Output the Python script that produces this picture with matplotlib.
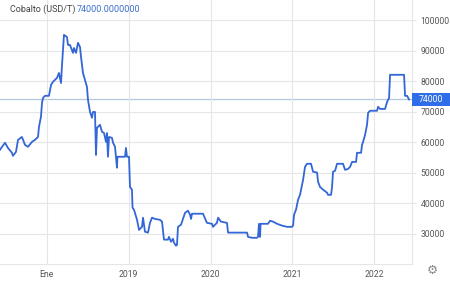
import matplotlib
matplotlib.use("Agg")
import matplotlib.pyplot as plt
import matplotlib.transforms as mtransforms
from matplotlib.patches import Rectangle

# time as decimal year, price in USD per tonne
years = [
    2017.430, 2017.491, 2017.527, 2017.576, 2017.588, 2017.625, 2017.650, 2017.698,
    2017.711, 2017.735, 2017.772, 2017.821, 2017.857, 2017.882, 2017.894, 2017.906,
    2017.930, 2017.943, 2017.955, 2017.979, 2018.028, 2018.053, 2018.077, 2018.126,
    2018.150, 2018.175, 2018.187, 2018.199, 2018.211, 2018.248, 2018.260, 2018.284,
    2018.321, 2018.333, 2018.358, 2018.382, 2018.407, 2018.419, 2018.443, 2018.468,
    2018.492, 2018.504, 2018.529, 2018.553, 2018.565, 2018.590, 2018.602, 2018.614,
    2018.651, 2018.675, 2018.700, 2018.724, 2018.736, 2018.748, 2018.761, 2018.797,
    2018.810, 2018.834, 2018.858, 2018.864, 2018.956, 2018.968, 2018.980, 2019.005,
    2019.017, 2019.041, 2019.048, 2019.066, 2019.103, 2019.127, 2019.164, 2019.176,
    2019.200, 2019.237, 2019.261, 2019.286, 2019.322, 2019.383, 2019.408, 2019.432,
    2019.481, 2019.493, 2019.518, 2019.542, 2019.554, 2019.579, 2019.591, 2019.603,
    2019.640, 2019.664, 2019.689, 2019.725, 2019.750, 2019.762, 2019.774, 2019.908,
    2019.957, 2020.018, 2020.031, 2020.055, 2020.079, 2020.092, 2020.128, 2020.201,
    2020.214, 2020.446, 2020.458, 2020.507, 2020.568, 2020.580, 2020.592, 2020.605,
    2020.611, 2020.702, 2020.727, 2020.763, 2020.812, 2020.873, 2020.934, 2020.995,
    2021.008, 2021.020, 2021.044, 2021.069, 2021.093, 2021.117, 2021.130, 2021.154,
    2021.178, 2021.227, 2021.252, 2021.301, 2021.313, 2021.337, 2021.374, 2021.423,
    2021.435, 2021.472, 2021.484, 2021.496, 2021.521, 2021.545, 2021.618, 2021.643,
    2021.679, 2021.704, 2021.728, 2021.777, 2021.789, 2021.838, 2021.850, 2021.863,
    2021.887, 2021.911, 2021.924, 2021.948, 2022.033, 2022.046, 2022.070, 2022.131,
    2022.156, 2022.180, 2022.192, 2022.363, 2022.375, 2022.400, 2022.424,
]
prices = [
    57500, 59800, 58100, 56500, 55500, 56800, 60750, 61700,
    60750, 59100, 58450, 60100, 60750, 61400, 61700, 65000,
    68300, 72900, 74500, 75200, 75200, 78800, 79800, 81100,
    82700, 79400, 85300, 90300, 95200, 94500, 91900, 91900,
    89300, 90900, 89300, 92600, 91200, 88000, 82700, 80400,
    78100, 73900, 69900, 68000, 69900, 69900, 55800, 64700,
    65700, 63400, 63000, 60100, 63000, 55200, 61700, 61400,
    59800, 58500, 51600, 55200, 55200, 58100, 55200, 55200,
    45300, 44400, 38500, 37800, 34500, 31200, 32200, 35200,
    30600, 30300, 33500, 35200, 34800, 34500, 33900, 28000,
    28000, 28900, 27300, 28300, 27000, 26000, 26300, 32200,
    32900, 34800, 36800, 37500, 36200, 34800, 36500, 36500,
    33500, 33200, 32200, 32900, 33500, 35200, 33900, 33500,
    30300, 30300, 28900, 28600, 28600, 28900, 33200, 28900,
    33200, 33200, 34200, 33900, 33200, 32600, 32200, 32200,
    32600, 36200, 37800, 41100, 42700, 46000, 47600, 51900,
    52900, 52900, 50300, 50000, 47000, 45300, 44400, 43400,
    42700, 42700, 45300, 50300, 50600, 52900, 52900, 50900,
    51200, 51900, 53500, 53500, 56500, 56500, 59100, 60100,
    62400, 65700, 69600, 70300, 70300, 71600, 70900, 70900,
    73200, 74500, 82100, 82100, 75200, 75200, 74000,
]
last_price = 74000
tick_years = [2018, 2019, 2020, 2021, 2022]
tick_labels = ["Ene", "2019", "2020", "2021", "2022"]
y_ticks = [30000, 40000, 50000, 60000, 70000, 80000, 90000, 100000]

plt.rcParams["font.family"] = ["Roboto", "DejaVu Sans"]

fig = plt.figure(figsize=(4.5, 2.82), dpi=100)
ax = fig.add_axes([0, 18 / 282, 412 / 450, 264 / 282])

grid_col = "#e6e6e6"
text_col = "#555555"

ax.set_xlim(2017.43, 2022.46)
ax.set_ylim(20000, 106650)
ax.set_xticks(tick_years)
ax.set_xticklabels(tick_labels)
ax.set_yticks(y_ticks)
ax.set_yticklabels([str(v) for v in y_ticks])
ax.yaxis.tick_right()
ax.grid(True, color=grid_col, linewidth=0.8)
ax.tick_params(axis="y", length=3, color=grid_col, labelsize=6.2,
               labelcolor=text_col, pad=3)
ax.tick_params(axis="x", length=0, labelsize=6.2, labelcolor=text_col, pad=4)
for side in ["top", "left"]:
    ax.spines[side].set_visible(False)
for side in ["right", "bottom"]:
    ax.spines[side].set_color(grid_col)
    ax.spines[side].set_linewidth(0.8)

ax.axhline(last_price, color="#b3c8de", linewidth=0.9, zorder=1)
ax.plot(years, prices, color="#3366d6", linewidth=1.3, zorder=3)

# last value tag on the right
trans = mtransforms.blended_transform_factory(ax.transAxes, ax.transData)
box_h = 2150
ax.add_patch(Rectangle((1.0, last_price - box_h), 450 / 412 - 1.0, 2 * box_h,
                       transform=trans, facecolor="#2f6ee8", edgecolor="none",
                       clip_on=False, zorder=4))
ax.text(1.046, last_price, str(last_price), transform=trans, color="white",
        fontsize=6.2, ha="center", va="center", zorder=5)

fig.text(10 / 450, 1 - 9 / 282, "Cobalto (USD/T)", color="#444444",
         fontsize=6.5, va="center", ha="left")
fig.text(77 / 450, 1 - 9 / 282, f"{last_price:.7f}", color="#3b6fd0",
         fontsize=6.5, va="center", ha="left")
fig.text(432 / 450, 1 - 270 / 282, "\u2699", color="#888888", fontsize=9,
         va="center", ha="center", family="DejaVu Sans")

fig.savefig("out.png", dpi=100, facecolor="white")
